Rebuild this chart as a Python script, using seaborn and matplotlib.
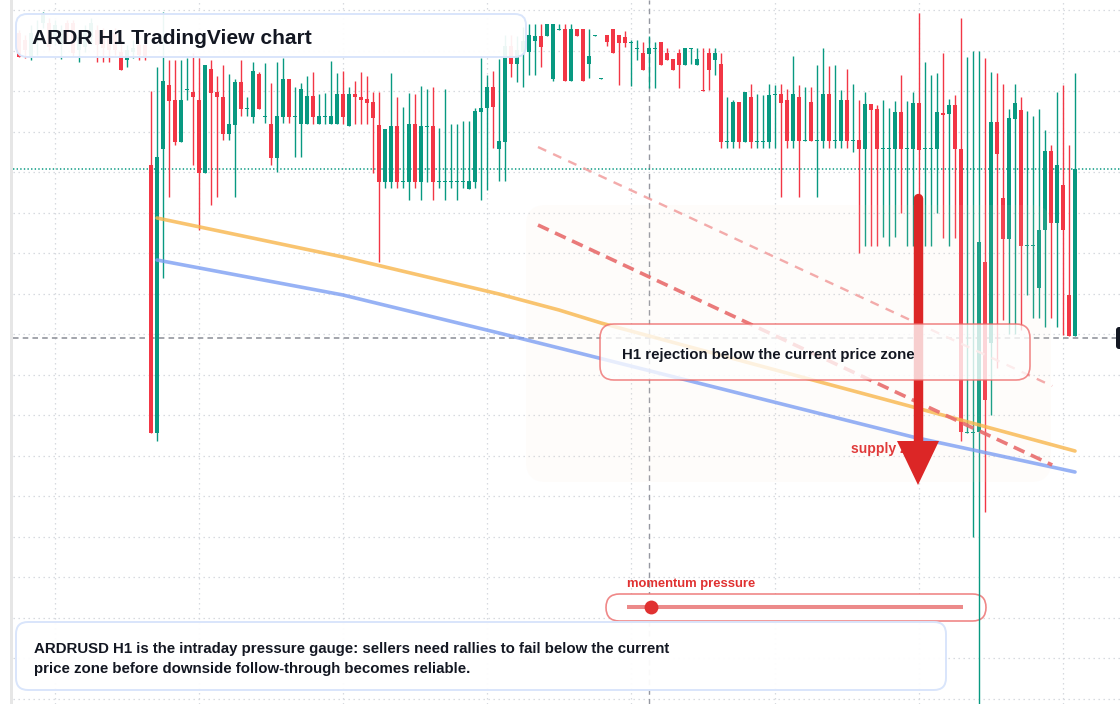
import numpy as np
import pandas as pd
import matplotlib
matplotlib.use("Agg")
import matplotlib.pyplot as plt
import seaborn as sns
from matplotlib.patches import FancyBboxPatch, Polygon, Rectangle
from matplotlib.lines import Line2D
from matplotlib.transforms import IdentityTransform

# ---------------- data: ARDR/USD hourly candles, prices in 1e-5 USD ----------------
open_e5 = [
    7067, 7060, 7043, 7060, 7077, 7077, 7063, 7055, 7077, 7077, 7050, 7053, 7063, 7070, 7065, 7062, 7067, 7048, 7040, 7048, 7055, 7055,
    6935, 6667, 6951, 7015, 7000, 6958, 7010, 7008, 7000, 6927,
    7031, 7008, 7003, 6966, 6975, 7018, 6991, 6983, 7026, 6983,
    6976, 6942, 6983, 7021, 6983, 6976, 6976, 7004, 6976, 6983,
    6976, 6976, 7006, 6974, 7006, 7003, 7001, 6998, 6975, 6918,
    6918, 6974, 6918, 6918, 6976, 6918, 6973, 6974, 6918, 6918,
    6918, 6918, 6918, 6911, 6918, 6988, 6992, 7013, 6951, 6958,
    7054, 7036, 7048, 7048, 7059, 7064, 7064, 7021, 7070, 7071,
    7019, 7071, 7071, 7036, 7064, 7021, 7065, 7071, 7065, 7063,
    7057, 7051, 7047, 7046, 7051, 7058, 7047, 7041, 7047, 7035,
    7051, 7035, 7010, 7047, 7040, 7036, 6958, 6958, 6998, 6958,
    7003, 6958, 6958, 6958, 7005, 7006, 7000, 6959, 7003, 6959,
    6998, 6959, 6959, 7006, 6959, 6959, 7000, 6959, 6960, 6951,
    6996, 6991, 6951, 6951, 6951, 6988, 6951, 6951, 6997, 6951,
    6951, 6951, 6987, 6986, 6995, 6951, 6667, 6667, 6668, 6838,
    6757, 6978, 6902, 6861, 6981, 6990, 6854, 6854, 6812, 6870,
    6949, 6877, 6915, 6805, 6764]
high_e5 = [
    7070, 7065, 7075, 7080, 7088, 7082, 7080, 7075, 7080, 7080, 7070, 7075, 7082, 7075, 7072, 7070, 7072, 7060, 7055, 7060, 7060, 7060,
    7009, 7033, 7088, 7040, 7040, 7040, 7042, 7047, 7042, 7035,
    7040, 7024, 7035, 7026, 7021, 7040, 7003, 7038, 7028, 7037,
    7017, 7038, 7042, 7021, 7013, 7017, 7024, 7028, 7006, 7007,
    7039, 7027, 7029, 7013, 7019, 7028, 7024, 7008, 7008, 6971,
    7027, 7003, 6993, 7007, 7006, 7014, 7011, 7013, 6972, 7011,
    6976, 6976, 6979, 6979, 6992, 7042, 7025, 7029, 7041, 7065,
    7065, 7064, 7073, 7076, 7076, 7076, 7076, 7076, 7076, 7076,
    7076, 7071, 7071, 7071, 7065, 7022, 7065, 7071, 7065, 7069,
    7060, 7060, 7058, 7064, 7058, 7058, 7052, 7041, 7051, 7052,
    7052, 7052, 7052, 7052, 7052, 7047, 7003, 7000, 6998, 7008,
    7016, 7006, 7005, 7016, 7015, 7016, 7011, 7044, 7015, 7013,
    7013, 7035, 7052, 7034, 7035, 7010, 7031, 7016, 7000, 7008,
    6996, 6995, 7000, 6992, 6999, 7025, 6999, 7008, 7087, 7038,
    7025, 7027, 7047, 7001, 7005, 7082, 7043, 7049, 7049, 7042,
    7028, 7027, 7016, 6991, 7016, 7003, 6989, 6984, 6991, 6970,
    6955, 7008, 7015, 6955, 7027]
low_e5 = [
    7043, 7042, 7040, 7045, 7072, 7050, 7055, 7041, 7060, 7044, 7038, 7048, 7055, 7038, 7038, 7038, 7045, 7030, 7033, 7042, 7040, 7040,
    6667, 6659, 6822, 6903, 6955, 6958, 7000, 6935, 6870, 6927,
    6895, 6903, 6960, 6960, 6903, 6984, 6984, 6977, 6991, 6977,
    6935, 6928, 6977, 6977, 6943, 6943, 6976, 6976, 6976, 6976,
    6976, 6976, 6976, 6974, 6976, 6976, 6976, 6927, 6838, 6912,
    6912, 6912, 6912, 6900, 6912, 6900, 6918, 6900, 6912, 6900,
    6912, 6900, 6912, 6911, 6912, 6900, 6910, 6952, 6919, 6919,
    7023, 7018, 7013, 7025, 7025, 7033, 7064, 7019, 7070, 7019,
    7019, 7064, 7019, 7022, 7064, 7021, 7054, 7047, 7015, 7053,
    7014, 7040, 7030, 7012, 7012, 7035, 7040, 7030, 7012, 7035,
    7036, 7035, 7009, 7010, 7025, 6952, 6952, 6952, 6952, 6958,
    6952, 6952, 6952, 6952, 6952, 6903, 6952, 6952, 6903, 6959,
    6959, 6903, 6952, 6952, 6952, 6952, 6952, 6948, 6847, 6854,
    6854, 6854, 6863, 6854, 6863, 6887, 6854, 6854, 6860, 6854,
    6854, 6887, 6862, 6854, 6862, 6659, 6667, 6563, 6390, 6588,
    6685, 6732, 6780, 6766, 6766, 6770, 6805, 6782, 6782, 6773,
    6782, 6773, 6765, 6764, 6764]
close_e5 = [
    7043, 7050, 7067, 7065, 7087, 7053, 7075, 7070, 7067, 7047, 7063, 7068, 7077, 7055, 7052, 7050, 7050, 7030, 7050, 7052, 7045, 7043,
    6667, 6943, 7019, 6999, 6958, 7000, 7011, 7003, 6927, 7035,
    7007, 7003, 6966, 6976, 7018, 6991, 6992, 7029, 6991, 6984,
    6942, 6984, 7021, 6983, 6984, 7011, 7004, 6983, 6984, 6984,
    6984, 7006, 6983, 7006, 7003, 7000, 6997, 6982, 6918, 6971,
    6974, 6918, 6919, 6976, 6918, 6974, 6974, 6918, 6919, 6919,
    6919, 6919, 6919, 6919, 6989, 6992, 7013, 6993, 6959, 7054,
    7036, 7050, 7059, 7065, 7064, 7053, 7076, 7076, 7071, 7019,
    7071, 7064, 7019, 7044, 7065, 7022, 7058, 7047, 7057, 7057,
    7058, 7052, 7030, 7052, 7052, 7035, 7040, 7030, 7035, 7052,
    7052, 7041, 7009, 7030, 7047, 6958, 6959, 6998, 6958, 7008,
    6958, 6959, 6959, 7005, 7006, 6997, 6959, 7006, 6959, 6960,
    6959, 6960, 7006, 6959, 6960, 7000, 6959, 6960, 6951, 6996,
    6990, 6951, 6952, 6952, 6988, 6951, 6952, 6997, 6950, 6952,
    6952, 6988, 6985, 6995, 6951, 6668, 6668, 6668, 6858, 6700,
    6978, 6946, 6861, 6982, 6997, 6854, 6855, 6855, 6870, 6949,
    6877, 6935, 6870, 6764, 6931]

# moving averages (candle index, price e5)
ema_fast_idx = [23, 54, 80, 90, 97, 149, 176]
ema_fast_e5 = [6882, 6843, 6806, 6790, 6777, 6693, 6649]
ema_slow_idx = [23, 54, 80, 90, 149, 176]
ema_slow_e5 = [6840, 6805, 6767, 6752, 6663, 6628]

# descending resistance trendlines (start/end)
trend_idx = [86.5, 172.2]
trend_upper_e5 = [6953, 6714]
trend_lower_e5 = [6875, 6635]

crosshair_idx = 105
crosshair_e5 = 6762
momentum_pressure = 0.07   # 0..1 gauge

title_text = "ARDR H1 TradingView chart"
callout_text = "H1 rejection below the current price zone"
zone_label = "supply zone"
gauge_label = "momentum pressure"
note_text = ("ARDRUSD H1 is the intraday pressure gauge: sellers need rallies to fail below the current\n"
             "price zone before downside follow-through becomes reliable.")

# ---------------- frame ----------------
n = len(open_e5)
assert n == len(high_e5) == len(low_e5) == len(close_e5)
df = pd.DataFrame({
    "idx": np.arange(n),
    "open": np.array(open_e5) / 1e5,
    "high": np.array(high_e5) / 1e5,
    "low": np.array(low_e5) / 1e5,
    "close": np.array(close_e5) / 1e5,
})
df["up"] = df["close"] >= df["open"]

GREEN = "#089981"
RED = "#f23645"

sns.set_theme(style="white")
plt.rcParams["font.family"] = ["Liberation Sans", "DejaVu Sans"]
plt.rcParams["lines.scale_dashes"] = False

W, H = 1120, 704
fig = plt.figure(figsize=(W / 100, H / 100), dpi=100)
fig.patch.set_facecolor("white")
ax = fig.add_axes([13 / W, 0, (W - 13) / W, 1])
ax.set_facecolor("white")
PX = IdentityTransform()


def py(y):
    return H - y


# grid: daily separators every 24 hourly candles, fixed price steps
ax.set_axisbelow(True)
ax.set_xticks(np.arange(6, n, 24))
ax.set_yticks((7090 - 40.53 * np.arange(18)) / 1e5)
ax.grid(True, color="#d3d6dc", linestyle=(0, (1.0, 2.6)), linewidth=0.9)
ax.tick_params(length=0, labelleft=False, labelbottom=False, labelright=False)
for s in ax.spines.values():
    s.set_visible(False)

# crosshair + last price line
ax.axvline(crosshair_idx, color="#9598a1", linewidth=1.0, linestyle=(0, (4, 3)), zorder=1)
ax.axhline(crosshair_e5 / 1e5, color="#8a8d96", linewidth=1.1, linestyle=(0, (4, 3)), zorder=1)
ax.axhline(df["close"].iloc[-1], color=GREEN, linewidth=1.1, linestyle=(0, (1, 1.6)), zorder=1)

# candles
colors = np.where(df["up"], GREEN, RED)
ax.vlines(df["idx"], df["low"], df["high"], colors=colors, linewidth=1.0, zorder=2)
body = np.maximum((df["close"] - df["open"]).abs(), 1.3e-5)
mid = (df["close"] + df["open"]) / 2
ax.bar(df["idx"], body, bottom=mid - body / 2, width=0.78, color=colors, linewidth=0, zorder=2.1)

# gauge pill (under candles)
def rbox(x0, y0, x1, y1, r, fc, ec, lw, z):
    p = FancyBboxPatch((x0, py(y1)), x1 - x0, y1 - y0,
                       boxstyle=f"round,pad=0,rounding_size={r}",
                       transform=PX, facecolor=fc, edgecolor=ec, linewidth=lw,
                       zorder=z, clip_on=False)
    ax.add_artist(p)
    return p

rbox(606, 594, 986, 621, 13.5, "white", (0.93, 0.45, 0.45, 0.85), 1.2, 1.5)
gx0, gx1, gy = 627, 963, 607
ax.add_artist(Line2D([gx0, gx1], [py(gy), py(gy)], transform=PX, color="#ec8a8a",
                     linewidth=2.9, solid_capstyle="butt", zorder=1.6))
gx = gx0 + momentum_pressure * (gx1 - gx0)
ax.add_artist(Line2D([gx], [py(gy)], transform=PX, marker="o", markersize=10,
                     color="#e03131", markeredgewidth=0, zorder=1.7))
ax.text(627, py(587), gauge_label, transform=PX, color="#e03131", fontsize=9.4,
        fontweight="bold", va="baseline", ha="left", zorder=1.7)

# shaded supply region
rbox(526, 205, 1051, 482, 20, (0.97, 0.88, 0.80, 0.09), "none", 0, 2.5)

# moving averages
sns.lineplot(x=ema_fast_idx, y=np.array(ema_fast_e5) / 1e5, ax=ax, color="#f8b64c",
             alpha=0.8, linewidth=2.6, zorder=3, legend=False)
sns.lineplot(x=ema_slow_idx, y=np.array(ema_slow_e5) / 1e5, ax=ax, color="#7d9ff3",
             alpha=0.8, linewidth=2.6, zorder=3, legend=False)

# trendlines
ax.plot(trend_idx, np.array(trend_upper_e5) / 1e5, color="#f2a2a2", linewidth=1.7,
        linestyle=(0, (6.5, 5.5)), zorder=3.2, alpha=0.9)
ax.plot(trend_idx, np.array(trend_lower_e5) / 1e5, color="#e86c6c", linewidth=2.6,
        linestyle=(0, (8.5, 5.0)), zorder=3.2, alpha=0.9)

# supply label + arrow
ax.text(851, py(453), zone_label, transform=PX, color="#e03a3a", fontsize=10.1,
        fontweight="bold", va="baseline", ha="left", zorder=3.5)
ax.add_artist(Line2D([918, 918], [py(198), py(446)], transform=PX, color="#dc2626",
                     linewidth=6.8, solid_capstyle="round", zorder=4))
ax.add_artist(Polygon([(897, py(441)), (939, py(441)), (918, py(485))], closed=True,
                      transform=PX, facecolor="#dc2626", edgecolor="none", zorder=4))

# callout
rbox(600, 324, 1030, 380, 14, (1, 1, 1, 0.78), (0.93, 0.40, 0.40, 0.75), 1.2, 5)
ax.text(622, py(359), callout_text, transform=PX, color="#131722", fontsize=10.8,
        fontweight="bold", va="baseline", ha="left", zorder=5.1)

# title box
rbox(16, 14, 526, 57, 11, (1, 1, 1, 0.93), "#d9e5fb", 1.4, 5)
ax.text(32, py(43.5), title_text, transform=PX, color="#131722", fontsize=15.1,
        fontweight="bold", va="baseline", ha="left", zorder=5.1)

# note box
rbox(16, 622, 946, 690, 12, (1, 1, 1, 0.95), "#d9e5fb", 1.4, 5)
for i, line in enumerate(note_text.split("\n")):
    ax.text(34, py(653 + 19.5 * i), line, transform=PX, color="#131722", fontsize=10.8,
            fontweight="bold", va="baseline", ha="left", zorder=5.1)

# clipped price tag on right edge
rbox(1116, 327, 1132, 349, 3, "#131722", "none", 0, 6)

# left scale strip
fig.add_artist(Rectangle((10, 0), 3, H, transform=PX, facecolor="#e6e6e6",
                         edgecolor="none"))

ax.set_xlim(-1, (W - 19) / 6)
ax.set_ylim((7100 - H) / 1e5, 7100 / 1e5)
ax.set_xlabel("")
ax.set_ylabel("")

fig.savefig("out.png", dpi=100, facecolor="white")
